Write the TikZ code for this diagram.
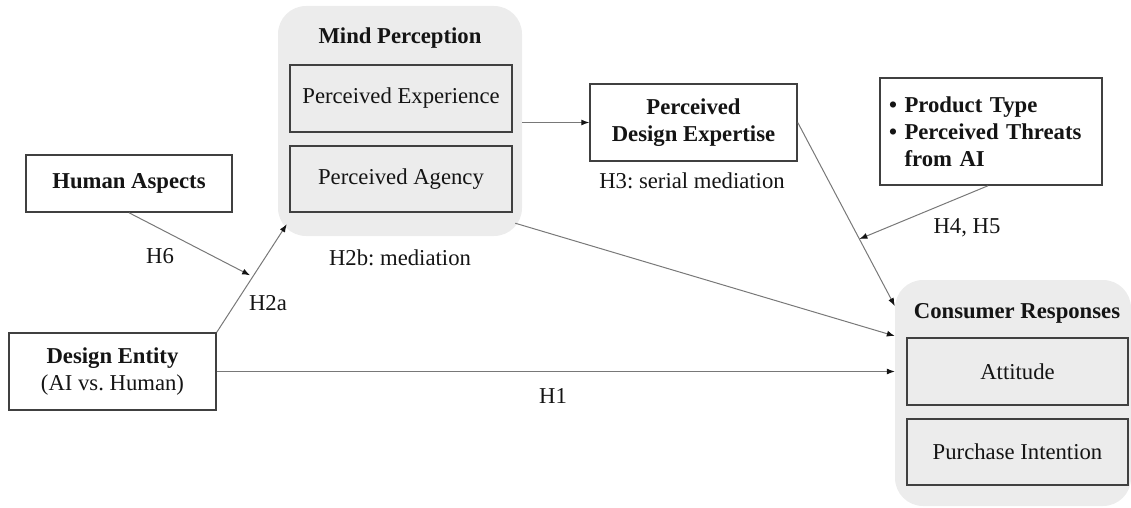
\documentclass[tikz,border=0pt]{standalone}
\usepackage{fontspec}
\setmainfont{Liberation Serif}
\usetikzlibrary{arrows.meta,calc}
\definecolor{panel}{RGB}{236,236,236}
\definecolor{edge}{RGB}{64,64,64}
\definecolor{wire}{RGB}{120,120,120}
\definecolor{ink}{RGB}{20,20,20}
\frenchspacing
\begin{document}
\begin{tikzpicture}[x=1pt,y=-1pt,
  font=\fontsize{22.7}{27}\selectfont, text=ink,
  group/.style={draw=none, fill=panel, rounded corners=28pt, inner sep=0pt},
  inbox/.style={draw=edge, line width=1.5pt, fill=panel, inner sep=0pt},
  plainbox/.style={draw=edge, line width=1.5pt, fill=white, inner sep=0pt, align=center},
  arr/.style={draw=wire, line width=1pt, -{Latex[length=8pt,width=6pt,color=ink]}},
  lbl/.style={inner sep=0pt}]
\path[use as bounding box, clip] (0,0) rectangle (1131,508);

% Mind perception group
\node[group, minimum width=244pt, minimum height=230pt] (mind) at (400,121) {};
\node[lbl, font=\fontsize{22.7}{27}\selectfont\bfseries] (mindt) at (400,38) {Mind Perception};
\node[inbox, minimum width=222pt, minimum height=67pt] (exper) at (401,98.5) {Perceived Experience};
\node[inbox, minimum width=222pt, minimum height=66pt] (agency) at (401,179) {Perceived Agency};

% Consumer responses group
\node[group, minimum width=236pt, minimum height=226pt] (cons) at (1013,393) {};
\node[lbl, font=\fontsize{22.7}{27}\selectfont\bfseries] (const) at (1017,313) {Consumer Responses};
\node[inbox, minimum width=221pt, minimum height=67pt] (attitude) at (1017.5,371.5) {Attitude};
\node[inbox, minimum width=221pt, minimum height=66pt] (purchase) at (1017.5,452) {Purchase Intention};

% Single boxes
\node[plainbox, minimum width=207pt, minimum height=77pt, font=\fontsize{22.7}{27}\selectfont\bfseries] (expertise) at (693.5,122.5) {Perceived\\Design Expertise};
\node[plainbox, minimum width=222pt, minimum height=107pt, text width=204pt, align=left, font=\fontsize{22.7}{27}\selectfont\bfseries] (moder) at (991,131.5)
  {\textbullet\ Product Type\\\textbullet\ Perceived Threats\\\phantom{\textbullet\ }from AI};
\node[plainbox, minimum width=206pt, minimum height=57pt, font=\fontsize{22.7}{27}\selectfont\bfseries] (human) at (129,183.5) {Human Aspects};
\node[plainbox, minimum width=207pt, minimum height=77pt] (entity) at (112.5,371.5) {\textbf{Design Entity}\\(AI vs. Human)};

% Anchor points on the paths
\coordinate (mindsw) at ([xshift=9pt,yshift=12pt]mind.south west);
\coordinate (mindse) at ([xshift=-7pt,yshift=13pt]mind.south east);
\coordinate (consA) at ([yshift=87pt]cons.west);
\coordinate (consB) at ([yshift=57pt]cons.west);
\coordinate (modpt) at ($(expertise.east)!0.635!(consA)$);
\coordinate (h6pt) at ($(entity.north east)!0.514!(mindsw)$);

% Connectors
\draw[arr] (mind.east |- expertise.west) -- (expertise.west);
\draw[arr] (expertise.east) -- (consA);
\draw[arr] ([xshift=-3pt]moder.south) -- (modpt);
\draw[arr] (mindse) -- (consB);
\draw[arr] (entity.east) -- (entity.east -| cons.west);
\draw[arr] (entity.north east) -- (mindsw);
\draw[arr, shorten >=3pt] (human.south) -- (h6pt);

% Hypothesis labels
\node[lbl] (h3) at (692,181) {H3: serial mediation};
\node[lbl] (h2b) at (400,258) {H2b: mediation};
\node[lbl] (h45) at (967,228) {H4, H5};
\node[lbl] (h6) at (160,256) {H6};
\node[lbl] (h2a) at (268,303) {H2a};
\node[lbl] (h1) at (553,396) {H1};
\end{tikzpicture}
\end{document}
